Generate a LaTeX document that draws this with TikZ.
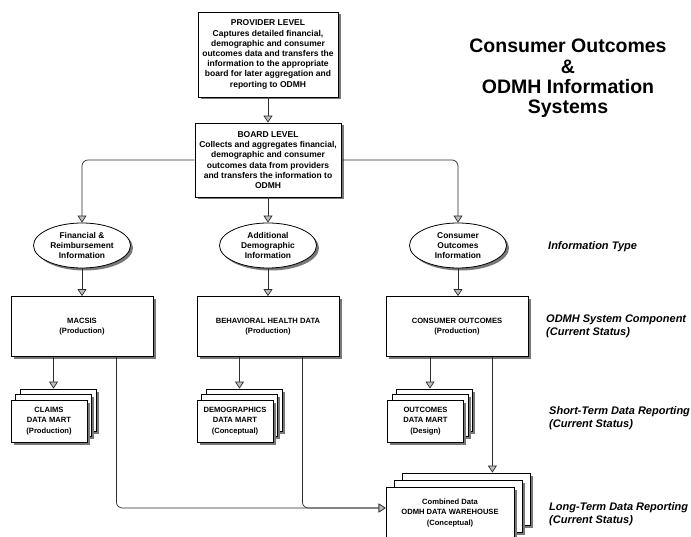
\documentclass[tikz,border=0pt]{standalone}
\usepackage{fontspec}
\setmainfont{Liberation Sans}
\usepackage{xcolor}
\usepackage{tikz}
\usetikzlibrary{arrows.meta, shapes.geometric, shadows}
\definecolor{ink}{RGB}{0,0,0}
\definecolor{wire}{RGB}{45,45,45}
\definecolor{tipfill}{RGB}{190,190,190}
\definecolor{shade}{RGB}{120,120,120}
\tikzset{
  shadowed/.style  ={drop shadow={shadow xshift=2.5pt, shadow yshift=-2.5pt, fill=shade, opacity=1}},
  levelbox/.style  ={rectangle, draw=ink, line width=0.8pt, fill=white, shadowed, inner sep=1pt,
                     align=center, font=\fontsize{8.5}{10.2}\selectfont\bfseries},
  infotype/.style  ={ellipse, draw=ink, line width=0.8pt, fill=white, shadowed, inner sep=0pt,
                     minimum width=97pt, minimum height=45pt, align=center,
                     font=\fontsize{8.4}{10}\selectfont\bfseries},
  sysbox/.style    ={rectangle, draw=ink, line width=0.8pt, fill=white, shadowed,
                     minimum width=142pt, minimum height=60pt, align=center,
                     font=\fontsize{7.6}{10}\selectfont\bfseries},
  martsheet/.style ={rectangle, draw=ink, line width=0.8pt, fill=white, shadowed,
                     minimum width=76pt, minimum height=42pt, inner sep=0pt, align=center,
                     font=\fontsize{7.6}{10.5}\selectfont\bfseries},
  whsheet/.style   ={martsheet, minimum width=128pt, minimum height=52pt},
  arr/.style       ={-{Triangle[length=7pt, width=9pt, fill=tipfill]}, draw=wire, line width=0.7pt},
  sidelabel/.style ={anchor=west, align=left, inner sep=0pt,
                     font=\fontsize{11}{13}\selectfont\bfseries\itshape},
  titlelabel/.style={align=center, inner sep=0pt, font=\fontsize{19.5}{20.4}\selectfont\bfseries},
}

\begin{document}
\begin{tikzpicture}[x=1pt, y=-1pt]
\useasboundingbox (0,0) rectangle (691,537);
\fill[white] (0,0) rectangle (691,537);
\clip (0,0) rectangle (691,537);
% upper levels
\node[levelbox, minimum width=140pt, minimum height=85pt] (provider) at (268,54.5)
  {PROVIDER LEVEL\\Captures detailed financial,\\demographic and consumer\\outcomes data and transfers the\\information to the appropriate\\board for later aggregation and\\reporting to ODMH};
\node[levelbox, minimum width=146pt, minimum height=74pt] (board) at (268,160)
  {BOARD LEVEL\\Collects and aggregates financial,\\demographic and consumer\\outcomes data from providers\\and transfers the information to\\ODMH};
\node[titlelabel] (title) at (568,78.5) {Consumer Outcomes\\\&\\ODMH Information\\Systems};
% information types
\node[infotype] (finInfo) at (82,245.5) {Financial \&\\Reimbursement\\Information};
\node[infotype] (demoInfo) at (268,245.5) {Additional\\Demographic\\Information};
\node[infotype] (coInfo) at (458,245.5) {Consumer\\Outcomes\\Information};
% system components
\node[sysbox] (macsis) at (82,326.5) {MACSIS\\(Production)};
\node[sysbox] (bhd) at (268,326.5) {BEHAVIORAL HEALTH DATA\\(Production)};
\node[sysbox] (co) at (457,326.5) {CONSUMER OUTCOMES\\(Production)};
% data marts
\foreach \x/\name/\txt in {49/claims/{CLAIMS\\DATA MART\\(Production)},
                           235/demog/{DEMOGRAPHICS\\DATA MART\\(Conceptual)},
                           425.5/outc/{OUTCOMES\\DATA MART\\(Design)}} {
  \node[martsheet] (\name-b) at (\x+9,410) {};
  \node[martsheet] (\name-m) at (\x+4.5,415.5) {};
  \node[martsheet] (\name) at (\x,421) {\txt};
}
% warehouse
\node[whsheet] (wh-b) at (466,499) {};
\node[whsheet] (wh-m) at (458,506) {};
\node[whsheet] (wh) at (450,513) {Combined Data\\ODMH DATA WAREHOUSE\\(Conceptual)};
\coordinate (wh-in) at ([yshift=5pt]wh.west);
\coordinate (macsis-out) at ([xshift=-37pt]macsis.south east);
\coordinate (bhd-out) at ([xshift=-37pt]bhd.south east);
\coordinate (co-out) at ([xshift=-36pt]co.south east);
% side labels
\node[sidelabel] (lblType) at (548,247) {Information Type};
\node[sidelabel] (lblSys) at (546,326.5) {ODMH System Component\\(Current Status)};
\node[sidelabel] (lblShort) at (549,418.5) {Short-Term Data Reporting\\(Current Status)};
\node[sidelabel] (lblLong) at (549,514.5) {Long-Term Data Reporting\\(Current Status)};
% connectors
\draw[arr] (provider) -- (board);
\draw[arr, rounded corners=6pt] (board.west) -| (finInfo.north);
\draw[arr] (board) -- (demoInfo);
\draw[arr, rounded corners=6pt] (board.east) -| (coInfo.north);
\draw[arr] (finInfo) -- (macsis);
\draw[arr] (demoInfo) -- (bhd);
\draw[arr] (coInfo.south) -- (coInfo.south |- co.north);
\draw[arr] (claims-m.north |- macsis.south) -- (claims-m.north |- claims-b.north);
\draw[arr] (demog-m.north |- bhd.south) -- (demog-m.north |- demog-b.north);
\draw[arr] (outc-m.north |- co.south) -- (outc-m.north |- outc-b.north);
\draw[arr, rounded corners=6pt] (macsis-out) |- (wh-in);
\draw[arr, rounded corners=6pt] (bhd-out) |- (wh-in);
\draw[arr] (co-out) -- (co-out |- wh-b.north);
\end{tikzpicture}
\end{document}
